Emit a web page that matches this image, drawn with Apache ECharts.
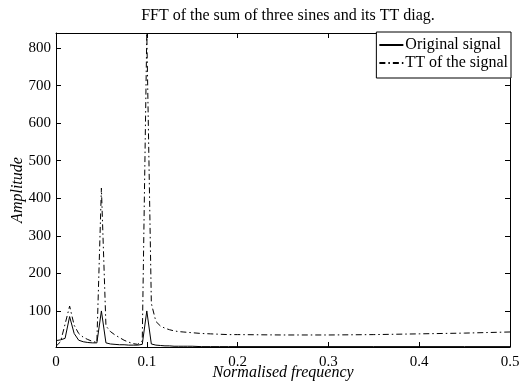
<!DOCTYPE html>
<html>
<head>
<meta charset="utf-8">
<script src="https://cdn.jsdelivr.net/npm/echarts@6/dist/echarts.min.js"></script>
<style>
html,body{margin:0;padding:0;background:#fff;}
#chart{width:528px;height:388px;}
</style>
</head>
<body>
<div id="chart"></div>
<script>
// Normalised frequency samples
var freq = [0,0.005,0.01,0.015,0.02,0.025,0.03,0.035,0.04,0.045,0.05,0.055,0.06,0.065,0.07,0.075,0.08,0.085,0.09,0.095,0.1,0.105,0.11,0.115,0.12,0.125,0.13,0.135,0.14,0.145,0.15,0.16,0.17,0.18,0.19,0.2,0.25,0.3,0.35,0.4,0.45,0.5];
// Original signal amplitude
var originalAmp = [21,23,27,85,40,22,18,16,15,15,100,15,12,11,10,10,9,9,9,11,100,12,9,8,7,7,6,6,6,6,6,5,5,5,5,5,5,5,5,5,5,5];
// TT of the signal amplitude
var ttAmp = [6,18,65,113,62,40,30,24,19,16,427,60,45,36,29,22,17,13,11,20,840,120,72,60,54,50,47,45,44,43,42,40,39,38,37,37,36,36,37,39,41,44];
var xTicks = [0,0.1,0.2,0.3,0.4,0.5];
var yTicks = [100,200,300,400,500,600,700,800];
var seriesNames = ['Original signal','TT of the signal'];

function pairs(xs, ys){ return xs.map(function(x,i){ return [x, ys[i]]; }); }

var FONT = 'Liberation Serif';
var chart = echarts.init(document.getElementById('chart'), null, {renderer:'canvas'});
var axisLineStyle = {color:'#000', width:1};
chart.setOption({
  animation:false,
  backgroundColor:'#fff',
  title:{
    text:'FFT of the sum of three sines and its TT diag.',
    left:283, top:3, textAlign:'center',
    textStyle:{fontFamily:FONT, fontSize:16, fontWeight:'normal', color:'#000'}
  },
  legend:{
    data:seriesNames,
    orient:'vertical',
    right:17, top:32,
    itemWidth:24, itemHeight:12, itemGap:2,
    padding:[5,3,7,2],
    borderColor:'#000', borderWidth:1, backgroundColor:'#fff',
    itemStyle:{color:'transparent', borderWidth:0, opacity:0},
    textStyle:{fontFamily:FONT, fontSize:16, color:'#000', padding:[0,0,0,-3]}
  },
  grid:{left:56, right:18, top:33, bottom:41, outerBoundsMode:'none', containLabel:false},
  xAxis:[{
    type:'value', min:0, max:0.5, interval:0.1,
    name:'Normalised frequency', nameLocation:'middle', nameGap:18, nameMoveOverlap:false,
    nameTextStyle:{fontFamily:FONT, fontSize:16, fontStyle:'italic', color:'#000'},
    axisLine:{show:true, onZero:false, lineStyle:axisLineStyle},
    axisTick:{show:true, inside:true, length:5, lineStyle:axisLineStyle},
    axisLabel:{fontFamily:FONT, fontSize:15, color:'#000', margin:8},
    splitLine:{show:false}
  },{
    type:'value', min:0, max:0.5, interval:0.1, position:'top',
    axisLine:{show:true, onZero:false, lineStyle:axisLineStyle},
    axisTick:{show:true, inside:true, length:5, lineStyle:axisLineStyle},
    axisLabel:{show:false}, splitLine:{show:false}
  }],
  yAxis:[{
    type:'value', min:4, max:840,
    name:'Amplitude', nameLocation:'middle', nameGap:30, nameRotate:90, nameMoveOverlap:false,
    nameTextStyle:{fontFamily:FONT, fontSize:16, fontStyle:'italic', color:'#000'},
    axisLine:{show:true, onZero:false, lineStyle:axisLineStyle},
    axisTick:{show:true, inside:true, length:5, lineStyle:axisLineStyle, customValues:yTicks},
    axisLabel:{fontFamily:FONT, fontSize:15, color:'#000', margin:5, customValues:yTicks},
    splitLine:{show:false}
  },{
    type:'value', min:4, max:840, position:'right',
    axisLine:{show:true, onZero:false, lineStyle:axisLineStyle},
    axisTick:{show:true, inside:true, length:5, lineStyle:axisLineStyle, customValues:yTicks},
    axisLabel:{show:false}, splitLine:{show:false}
  }],
  series:[{
    name:seriesNames[0], type:'line', data:pairs(freq, originalAmp),
    showSymbol:false, symbol:'none',
    lineStyle:{color:'#000', width:1, type:'solid'},
    itemStyle:{color:'#000'}
  },{
    name:seriesNames[1], type:'line', data:pairs(freq, ttAmp),
    showSymbol:false, symbol:'none',
    lineStyle:{color:'#000', width:1, type:[6,3,1.5,3]},
    itemStyle:{color:'#000'}
  }]
});
</script>
</body>
</html>
